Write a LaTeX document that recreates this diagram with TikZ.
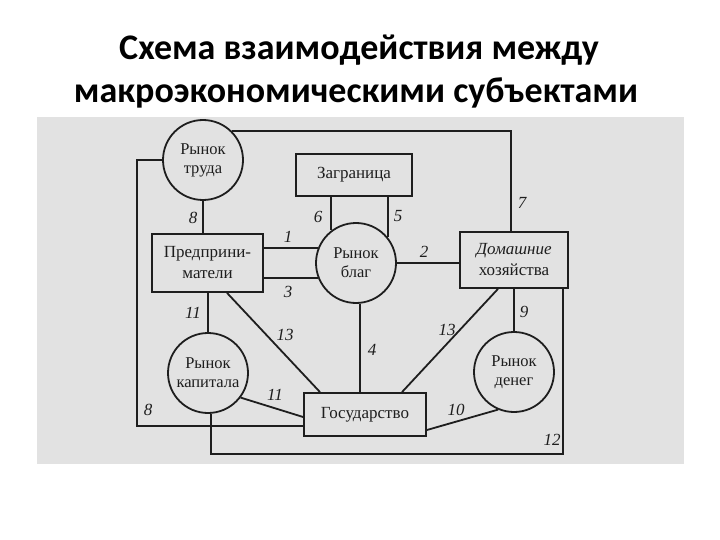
\documentclass[tikz,border=0pt]{standalone}
\usepackage{fontspec}
\setmainfont{Liberation Serif}
\newfontfamily\titlefont{Carlito}
\usetikzlibrary{calc}
\definecolor{scan}{RGB}{226,226,226}
\definecolor{ink}{RGB}{30,30,30}
\begin{document}
\begin{tikzpicture}[x=1pt,y=-1pt,
  circ/.style={draw=ink, circle, line width=1.8pt, minimum size=80pt, inner sep=0pt, align=center, text=ink, font=\fontsize{16.5}{19}\selectfont},
  box/.style={draw=ink, rectangle, line width=1.8pt, inner sep=0pt, align=center, text=ink, font=\fontsize{17}{21}\selectfont},
  conn/.style={draw=ink, line width=1.8pt},
  num/.style={text=ink, inner sep=0pt, font=\fontsize{17}{19}\selectfont\itshape},
  ttl/.style={anchor=base, inner sep=0pt, font=\titlefont\bfseries\fontsize{36}{42}\selectfont}]
\useasboundingbox (0,0) rectangle (720,540);
\fill[white] (0,0) rectangle (720,540);
\fill[scan] (37,117) rectangle (684,464);

\node[ttl] (t1) at (359,60) {Схема взаимодействия между};
\node[ttl] (t2) at (356,103) {макроэкономическими субъектами};

% nodes
\node[circ] (trud) at (203,160) {Рынок\\труда};
\node[box, minimum width=116pt, minimum height=42pt] (zagr) at (354,175) {Заграница};
\node[box, minimum width=111pt, minimum height=58pt] (pred) at (207.5,263) {Предприни-\\матели};
\node[circ] (blag) at (356,263) {Рынок\\благ};
\node[box, minimum width=108pt, minimum height=56pt] (dom) at (514,260) {\textit{Домашние}\\хозяйства};
\node[circ] (kap) at (208,373) {Рынок\\капитала};
\node[box, minimum width=122pt, minimum height=43pt] (gos) at (365,414.5) {Государство};
\node[circ] (den) at (514,372) {Рынок\\денег};

% connectors
\draw[conn] (trud.north east) -| ([xshift=-3pt]dom.north);
\draw[conn] (trud.west) -- ++(-25,0) |- ([yshift=-11.5pt]gos.west);
\draw[conn] (blag.127) -- (blag.127 |- zagr.south);
\draw[conn] (blag.39) -- (blag.39 |- zagr.south);
\draw[conn] (trud.south) -- (trud.south |- pred.north);
\draw[conn] (blag.158) -- (blag.158 -| pred.east);
\draw[conn] (blag.202) -- (blag.202 -| pred.east);
\draw[conn] (blag.east) -- (blag.east -| dom.west);
\draw[conn] (kap.north) -- (kap.north |- pred.south);
\draw[conn] ([xshift=19.5pt]pred.south) -- ([xshift=-45pt]gos.north);
\draw[conn] (kap.-37) -- ([yshift=-2.5pt]gos.west);
\draw[conn] (blag.-84) -- (blag.-84 |- gos.north);
\draw[conn] ([xshift=-16pt]dom.south) -- ([xshift=37pt]gos.north);
\draw[conn] (den.north) -- (den.north |- dom.south);
\draw[conn] ([yshift=-15.5pt]gos.east) -- (den.-113);
\draw[conn] ([xshift=49pt]dom.south) |- ([xshift=3pt,yshift=-40pt]kap.south) -- ([xshift=3pt]kap.south);

% labels
\node[num] (n7) at (522,203) {7};
\node[num] (n8a) at (148,410) {8};
\node[num] (n6) at (318,217) {6};
\node[num] (n5) at (398,216) {5};
\node[num] (n8b) at (193,218) {8};
\node[num] (n1) at (288,237) {1};
\node[num] (n3) at (288,292) {3};
\node[num] (n2) at (424,252) {2};
\node[num] (n9) at (524,312) {9};
\node[num] (n12) at (552,440) {12};
\node[num] (n11a) at (193,313) {11};
\node[num] (n11b) at (275,395) {11};
\node[num] (n13a) at (285,335) {13};
\node[num] (n4) at (372,350) {4};
\node[num] (n13b) at (447,330) {13};
\node[num] (n10) at (456,410) {10};
\end{tikzpicture}
\end{document}
